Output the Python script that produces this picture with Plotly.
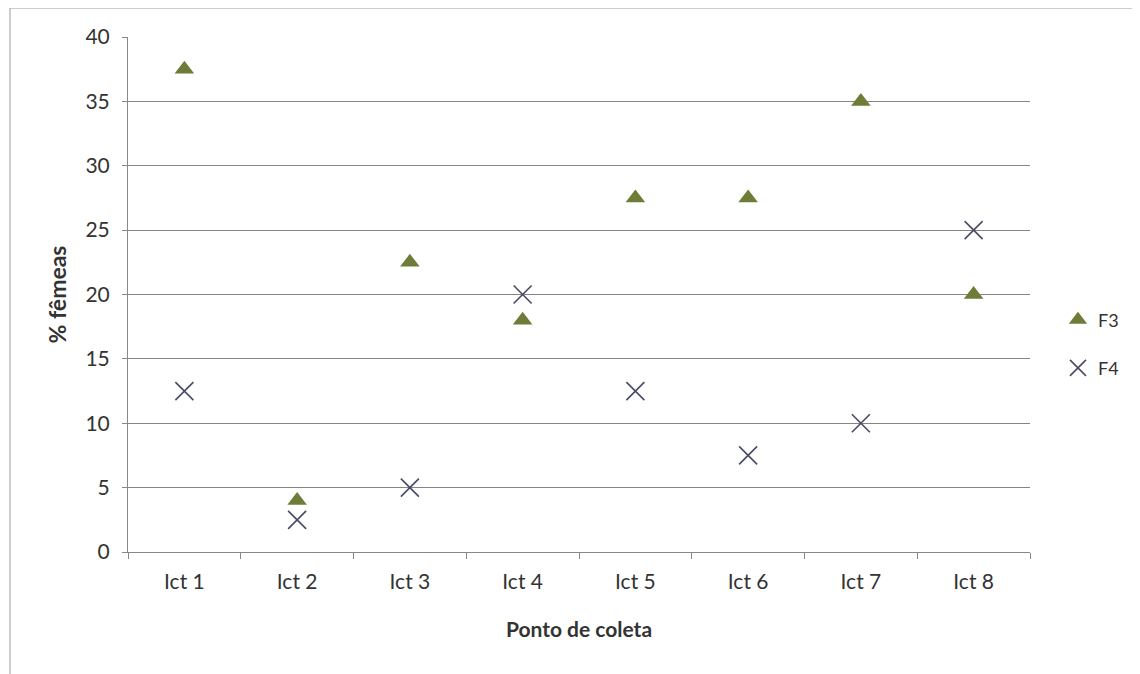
import plotly.graph_objects as go

# collection points and % females per series
pontos = ['Ict 1', 'Ict 2', 'Ict 3', 'Ict 4', 'Ict 5', 'Ict 6', 'Ict 7', 'Ict 8']
f3 = [37.5, 4, 22.5, 18, 27.5, 27.5, 35, 20]
f4 = [12.5, 2.5, 5, 20, 12.5, 7.5, 10, 25]

fonte = 'Lato, Open Sans, sans-serif'
cor_f3 = '#6d7d38'
cor_f4 = '#4a4a66'

fig = go.Figure()
fig.add_trace(go.Scatter(x=pontos, y=f3, mode='markers', name='F3', legend='legend',
                         marker=dict(symbol='triangle-up', size=17, color=cor_f3)))
fig.add_trace(go.Scatter(x=pontos, y=f4, mode='markers', name='F4', legend='legend2',
                         marker=dict(symbol='x-thin-open', size=18, color=cor_f4,
                                     line=dict(color=cor_f4, width=1.6))))

leg = dict(xanchor='left', yanchor='middle', font=dict(size=18, color='#333333'),
           bgcolor='rgba(0,0,0,0)', itemwidth=30)
fig.update_layout(
    width=1140, height=674,
    paper_bgcolor='white', plot_bgcolor='white',
    margin=dict(l=120, r=118, t=29, b=130),
    font=dict(family=fonte, size=21, color='#333333'),
    legend=dict(x=1.031, y=0.4505, **leg),
    legend2=dict(x=1.031, y=0.357, **leg),
    showlegend=True,
)
fig.update_xaxes(
    type='category', title=dict(text='<b>Ponto de coleta</b>', standoff=30, font=dict(size=21)),
    showline=True, linecolor='#888888', linewidth=1,
    ticks='outside', tickson='boundaries', ticklen=6, tickcolor='#888888',
    ticklabelstandoff=11,
    showgrid=False, range=[-0.5, 7.5],
)
fig.update_yaxes(
    title=dict(text='<b>% fêmeas</b>', standoff=12, font=dict(size=23)),
    range=[0, 40], dtick=5, showline=True, linecolor='#888888', linewidth=1,
    ticks='outside', ticklen=5, tickcolor='#888888', ticklabelstandoff=8,
    showgrid=True, gridcolor='#858585', gridwidth=1, zeroline=False,
)

# outer chart frame (left and top edges visible)
fig.add_shape(type='rect', xref='paper', yref='paper',
              x0=-0.1308, x1=1.3, y0=-0.4, y1=1.0563,
              line=dict(color='#9a9a9a', width=1))

fig.write_html('out.html')
